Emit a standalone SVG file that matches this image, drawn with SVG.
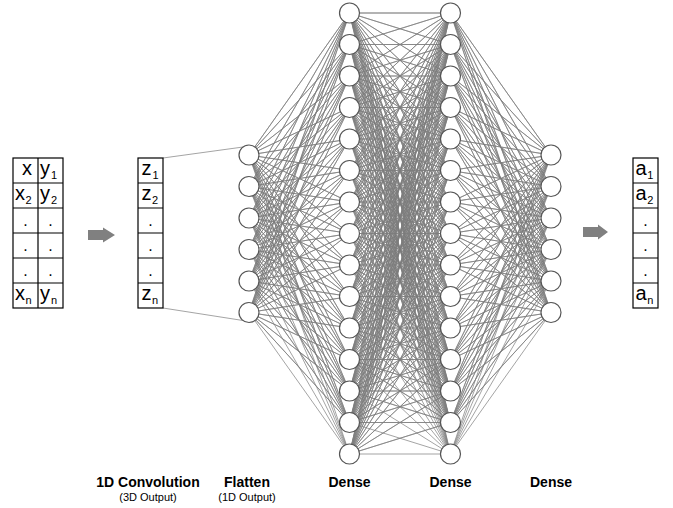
<svg xmlns="http://www.w3.org/2000/svg" width="673" height="508" viewBox="0 0 673 508">
<style>
.edge{fill:none;stroke:#7d7d7d;stroke-width:0.7;stroke-linejoin:round}
.node{fill:#fff;stroke:#555;stroke-width:1.2}
.cell{fill:#fff;stroke:#000;stroke-width:1.2}
.grid{stroke:#000;stroke-width:1.2}
.t{font-family:"Liberation Sans",Arial,sans-serif;font-size:20px;fill:#000}
.dot{font-family:"Liberation Sans",Arial,sans-serif;font-size:16px;fill:#000;text-anchor:middle}
.lbl{font-family:"Liberation Sans",Arial,sans-serif;font-size:14px;font-weight:bold;fill:#000;text-anchor:middle}
.sub{font-family:"Liberation Sans",Arial,sans-serif;font-size:11px;fill:#000;text-anchor:middle}
.arrow{fill:#808080}
</style>
<rect width="673" height="508" fill="#fff"/>
<g id="connectors">
<path class="edge" d="M163 158L243 147M163 308L243 320.5"/>
<path class="edge" d="M249 155L349.5 13 249 155 349.5 44.5 249 155 349.5 76 249 155 349.5 107.5 249 155 349.5 139 249 155 349.5 170.5 249 155 349.5 202 249 155 349.5 233.5 249 155 349.5 265 249 155 349.5 296.5 249 155 349.5 328 249 155 349.5 359.5 249 155 349.5 391 249 155 349.5 422.5 249 155 349.5 454"/>
<path class="edge" d="M249 186.5L349.5 13 249 186.5 349.5 44.5 249 186.5 349.5 76 249 186.5 349.5 107.5 249 186.5 349.5 139 249 186.5 349.5 170.5 249 186.5 349.5 202 249 186.5 349.5 233.5 249 186.5 349.5 265 249 186.5 349.5 296.5 249 186.5 349.5 328 249 186.5 349.5 359.5 249 186.5 349.5 391 249 186.5 349.5 422.5 249 186.5 349.5 454"/>
<path class="edge" d="M249 218L349.5 13 249 218 349.5 44.5 249 218 349.5 76 249 218 349.5 107.5 249 218 349.5 139 249 218 349.5 170.5 249 218 349.5 202 249 218 349.5 233.5 249 218 349.5 265 249 218 349.5 296.5 249 218 349.5 328 249 218 349.5 359.5 249 218 349.5 391 249 218 349.5 422.5 249 218 349.5 454"/>
<path class="edge" d="M249 249.5L349.5 13 249 249.5 349.5 44.5 249 249.5 349.5 76 249 249.5 349.5 107.5 249 249.5 349.5 139 249 249.5 349.5 170.5 249 249.5 349.5 202 249 249.5 349.5 233.5 249 249.5 349.5 265 249 249.5 349.5 296.5 249 249.5 349.5 328 249 249.5 349.5 359.5 249 249.5 349.5 391 249 249.5 349.5 422.5 249 249.5 349.5 454"/>
<path class="edge" d="M249 281L349.5 13 249 281 349.5 44.5 249 281 349.5 76 249 281 349.5 107.5 249 281 349.5 139 249 281 349.5 170.5 249 281 349.5 202 249 281 349.5 233.5 249 281 349.5 265 249 281 349.5 296.5 249 281 349.5 328 249 281 349.5 359.5 249 281 349.5 391 249 281 349.5 422.5 249 281 349.5 454"/>
<path class="edge" d="M249 312.5L349.5 13 249 312.5 349.5 44.5 249 312.5 349.5 76 249 312.5 349.5 107.5 249 312.5 349.5 139 249 312.5 349.5 170.5 249 312.5 349.5 202 249 312.5 349.5 233.5 249 312.5 349.5 265 249 312.5 349.5 296.5 249 312.5 349.5 328 249 312.5 349.5 359.5 249 312.5 349.5 391 249 312.5 349.5 422.5 249 312.5 349.5 454"/>
<path class="edge" d="M349.5 13L450.5 13 349.5 13 450.5 44.5 349.5 13 450.5 76 349.5 13 450.5 107.5 349.5 13 450.5 139 349.5 13 450.5 170.5 349.5 13 450.5 202 349.5 13 450.5 233.5 349.5 13 450.5 265 349.5 13 450.5 296.5 349.5 13 450.5 328 349.5 13 450.5 359.5 349.5 13 450.5 391 349.5 13 450.5 422.5 349.5 13 450.5 454"/>
<path class="edge" d="M349.5 44.5L450.5 13 349.5 44.5 450.5 44.5 349.5 44.5 450.5 76 349.5 44.5 450.5 107.5 349.5 44.5 450.5 139 349.5 44.5 450.5 170.5 349.5 44.5 450.5 202 349.5 44.5 450.5 233.5 349.5 44.5 450.5 265 349.5 44.5 450.5 296.5 349.5 44.5 450.5 328 349.5 44.5 450.5 359.5 349.5 44.5 450.5 391 349.5 44.5 450.5 422.5 349.5 44.5 450.5 454"/>
<path class="edge" d="M349.5 76L450.5 13 349.5 76 450.5 44.5 349.5 76 450.5 76 349.5 76 450.5 107.5 349.5 76 450.5 139 349.5 76 450.5 170.5 349.5 76 450.5 202 349.5 76 450.5 233.5 349.5 76 450.5 265 349.5 76 450.5 296.5 349.5 76 450.5 328 349.5 76 450.5 359.5 349.5 76 450.5 391 349.5 76 450.5 422.5 349.5 76 450.5 454"/>
<path class="edge" d="M349.5 107.5L450.5 13 349.5 107.5 450.5 44.5 349.5 107.5 450.5 76 349.5 107.5 450.5 107.5 349.5 107.5 450.5 139 349.5 107.5 450.5 170.5 349.5 107.5 450.5 202 349.5 107.5 450.5 233.5 349.5 107.5 450.5 265 349.5 107.5 450.5 296.5 349.5 107.5 450.5 328 349.5 107.5 450.5 359.5 349.5 107.5 450.5 391 349.5 107.5 450.5 422.5 349.5 107.5 450.5 454"/>
<path class="edge" d="M349.5 139L450.5 13 349.5 139 450.5 44.5 349.5 139 450.5 76 349.5 139 450.5 107.5 349.5 139 450.5 139 349.5 139 450.5 170.5 349.5 139 450.5 202 349.5 139 450.5 233.5 349.5 139 450.5 265 349.5 139 450.5 296.5 349.5 139 450.5 328 349.5 139 450.5 359.5 349.5 139 450.5 391 349.5 139 450.5 422.5 349.5 139 450.5 454"/>
<path class="edge" d="M349.5 170.5L450.5 13 349.5 170.5 450.5 44.5 349.5 170.5 450.5 76 349.5 170.5 450.5 107.5 349.5 170.5 450.5 139 349.5 170.5 450.5 170.5 349.5 170.5 450.5 202 349.5 170.5 450.5 233.5 349.5 170.5 450.5 265 349.5 170.5 450.5 296.5 349.5 170.5 450.5 328 349.5 170.5 450.5 359.5 349.5 170.5 450.5 391 349.5 170.5 450.5 422.5 349.5 170.5 450.5 454"/>
<path class="edge" d="M349.5 202L450.5 13 349.5 202 450.5 44.5 349.5 202 450.5 76 349.5 202 450.5 107.5 349.5 202 450.5 139 349.5 202 450.5 170.5 349.5 202 450.5 202 349.5 202 450.5 233.5 349.5 202 450.5 265 349.5 202 450.5 296.5 349.5 202 450.5 328 349.5 202 450.5 359.5 349.5 202 450.5 391 349.5 202 450.5 422.5 349.5 202 450.5 454"/>
<path class="edge" d="M349.5 233.5L450.5 13 349.5 233.5 450.5 44.5 349.5 233.5 450.5 76 349.5 233.5 450.5 107.5 349.5 233.5 450.5 139 349.5 233.5 450.5 170.5 349.5 233.5 450.5 202 349.5 233.5 450.5 233.5 349.5 233.5 450.5 265 349.5 233.5 450.5 296.5 349.5 233.5 450.5 328 349.5 233.5 450.5 359.5 349.5 233.5 450.5 391 349.5 233.5 450.5 422.5 349.5 233.5 450.5 454"/>
<path class="edge" d="M349.5 265L450.5 13 349.5 265 450.5 44.5 349.5 265 450.5 76 349.5 265 450.5 107.5 349.5 265 450.5 139 349.5 265 450.5 170.5 349.5 265 450.5 202 349.5 265 450.5 233.5 349.5 265 450.5 265 349.5 265 450.5 296.5 349.5 265 450.5 328 349.5 265 450.5 359.5 349.5 265 450.5 391 349.5 265 450.5 422.5 349.5 265 450.5 454"/>
<path class="edge" d="M349.5 296.5L450.5 13 349.5 296.5 450.5 44.5 349.5 296.5 450.5 76 349.5 296.5 450.5 107.5 349.5 296.5 450.5 139 349.5 296.5 450.5 170.5 349.5 296.5 450.5 202 349.5 296.5 450.5 233.5 349.5 296.5 450.5 265 349.5 296.5 450.5 296.5 349.5 296.5 450.5 328 349.5 296.5 450.5 359.5 349.5 296.5 450.5 391 349.5 296.5 450.5 422.5 349.5 296.5 450.5 454"/>
<path class="edge" d="M349.5 328L450.5 13 349.5 328 450.5 44.5 349.5 328 450.5 76 349.5 328 450.5 107.5 349.5 328 450.5 139 349.5 328 450.5 170.5 349.5 328 450.5 202 349.5 328 450.5 233.5 349.5 328 450.5 265 349.5 328 450.5 296.5 349.5 328 450.5 328 349.5 328 450.5 359.5 349.5 328 450.5 391 349.5 328 450.5 422.5 349.5 328 450.5 454"/>
<path class="edge" d="M349.5 359.5L450.5 13 349.5 359.5 450.5 44.5 349.5 359.5 450.5 76 349.5 359.5 450.5 107.5 349.5 359.5 450.5 139 349.5 359.5 450.5 170.5 349.5 359.5 450.5 202 349.5 359.5 450.5 233.5 349.5 359.5 450.5 265 349.5 359.5 450.5 296.5 349.5 359.5 450.5 328 349.5 359.5 450.5 359.5 349.5 359.5 450.5 391 349.5 359.5 450.5 422.5 349.5 359.5 450.5 454"/>
<path class="edge" d="M349.5 391L450.5 13 349.5 391 450.5 44.5 349.5 391 450.5 76 349.5 391 450.5 107.5 349.5 391 450.5 139 349.5 391 450.5 170.5 349.5 391 450.5 202 349.5 391 450.5 233.5 349.5 391 450.5 265 349.5 391 450.5 296.5 349.5 391 450.5 328 349.5 391 450.5 359.5 349.5 391 450.5 391 349.5 391 450.5 422.5 349.5 391 450.5 454"/>
<path class="edge" d="M349.5 422.5L450.5 13 349.5 422.5 450.5 44.5 349.5 422.5 450.5 76 349.5 422.5 450.5 107.5 349.5 422.5 450.5 139 349.5 422.5 450.5 170.5 349.5 422.5 450.5 202 349.5 422.5 450.5 233.5 349.5 422.5 450.5 265 349.5 422.5 450.5 296.5 349.5 422.5 450.5 328 349.5 422.5 450.5 359.5 349.5 422.5 450.5 391 349.5 422.5 450.5 422.5 349.5 422.5 450.5 454"/>
<path class="edge" d="M349.5 454L450.5 13 349.5 454 450.5 44.5 349.5 454 450.5 76 349.5 454 450.5 107.5 349.5 454 450.5 139 349.5 454 450.5 170.5 349.5 454 450.5 202 349.5 454 450.5 233.5 349.5 454 450.5 265 349.5 454 450.5 296.5 349.5 454 450.5 328 349.5 454 450.5 359.5 349.5 454 450.5 391 349.5 454 450.5 422.5 349.5 454 450.5 454"/>
<path class="edge" d="M551 155L450.5 13 551 155 450.5 44.5 551 155 450.5 76 551 155 450.5 107.5 551 155 450.5 139 551 155 450.5 170.5 551 155 450.5 202 551 155 450.5 233.5 551 155 450.5 265 551 155 450.5 296.5 551 155 450.5 328 551 155 450.5 359.5 551 155 450.5 391 551 155 450.5 422.5 551 155 450.5 454"/>
<path class="edge" d="M551 186.5L450.5 13 551 186.5 450.5 44.5 551 186.5 450.5 76 551 186.5 450.5 107.5 551 186.5 450.5 139 551 186.5 450.5 170.5 551 186.5 450.5 202 551 186.5 450.5 233.5 551 186.5 450.5 265 551 186.5 450.5 296.5 551 186.5 450.5 328 551 186.5 450.5 359.5 551 186.5 450.5 391 551 186.5 450.5 422.5 551 186.5 450.5 454"/>
<path class="edge" d="M551 218L450.5 13 551 218 450.5 44.5 551 218 450.5 76 551 218 450.5 107.5 551 218 450.5 139 551 218 450.5 170.5 551 218 450.5 202 551 218 450.5 233.5 551 218 450.5 265 551 218 450.5 296.5 551 218 450.5 328 551 218 450.5 359.5 551 218 450.5 391 551 218 450.5 422.5 551 218 450.5 454"/>
<path class="edge" d="M551 249.5L450.5 13 551 249.5 450.5 44.5 551 249.5 450.5 76 551 249.5 450.5 107.5 551 249.5 450.5 139 551 249.5 450.5 170.5 551 249.5 450.5 202 551 249.5 450.5 233.5 551 249.5 450.5 265 551 249.5 450.5 296.5 551 249.5 450.5 328 551 249.5 450.5 359.5 551 249.5 450.5 391 551 249.5 450.5 422.5 551 249.5 450.5 454"/>
<path class="edge" d="M551 281L450.5 13 551 281 450.5 44.5 551 281 450.5 76 551 281 450.5 107.5 551 281 450.5 139 551 281 450.5 170.5 551 281 450.5 202 551 281 450.5 233.5 551 281 450.5 265 551 281 450.5 296.5 551 281 450.5 328 551 281 450.5 359.5 551 281 450.5 391 551 281 450.5 422.5 551 281 450.5 454"/>
<path class="edge" d="M551 312.5L450.5 13 551 312.5 450.5 44.5 551 312.5 450.5 76 551 312.5 450.5 107.5 551 312.5 450.5 139 551 312.5 450.5 170.5 551 312.5 450.5 202 551 312.5 450.5 233.5 551 312.5 450.5 265 551 312.5 450.5 296.5 551 312.5 450.5 328 551 312.5 450.5 359.5 551 312.5 450.5 391 551 312.5 450.5 422.5 551 312.5 450.5 454"/>
<polygon class="arrow" points="88,230 103,230 103,227.5 115,235 103,242.5 103,240 88,240"/>
<polygon class="arrow" points="583,227 598,227 598,224.5 608,232 598,239.5 598,237 583,237"/>
</g>
<g id="input-table">
<rect class="cell" x="13" y="158" width="50" height="150"/>
<path class="grid" d="M38 158V308M13 183H63M13 208H63M13 233H63M13 258H63M13 283H63"/>
<text class="t" x="22" y="175">x</text>
<text class="t" x="40" y="175">y<tspan font-size="11" dx="1" dy="4">1</tspan></text>
<text class="t" x="15" y="200">x<tspan font-size="11" dx="0.5" dy="4">2</tspan></text>
<text class="t" x="40" y="200">y<tspan font-size="11" dx="1" dy="4">2</tspan></text>
<text class="dot" x="25.5" y="226">.</text><text class="dot" x="50.5" y="226">.</text>
<text class="dot" x="25.5" y="251">.</text><text class="dot" x="50.5" y="251">.</text>
<text class="dot" x="25.5" y="276">.</text><text class="dot" x="50.5" y="276">.</text>
<text class="t" x="15" y="300">x<tspan font-size="11" dx="0.5" dy="4">n</tspan></text>
<text class="t" x="40" y="300">y<tspan font-size="11" dx="1" dy="4">n</tspan></text>
</g>
<g id="conv-table">
<rect class="cell" x="138" y="158" width="25" height="150"/>
<path class="grid" d="M138 183H163M138 208H163M138 233H163M138 258H163M138 283H163"/>
<text class="t" x="141.5" y="175">z<tspan font-size="11" dx="1" dy="4">1</tspan></text>
<text class="t" x="141.5" y="200">z<tspan font-size="11" dx="0.5" dy="4">2</tspan></text>
<text class="dot" x="150.5" y="226">.</text>
<text class="dot" x="150.5" y="251">.</text>
<text class="dot" x="150.5" y="276">.</text>
<text class="t" x="141.5" y="300">z<tspan font-size="11" dx="0.5" dy="4">n</tspan></text>
</g>
<g id="output-table">
<rect class="cell" x="633" y="158" width="25" height="150"/>
<path class="grid" d="M633 183H658M633 208H658M633 233H658M633 258H658M633 283H658"/>
<text class="t" x="635.5" y="175">a<tspan font-size="11" dx="0.5" dy="4">1</tspan></text>
<text class="t" x="635.5" y="200">a<tspan font-size="11" dx="0.5" dy="4">2</tspan></text>
<text class="dot" x="645.5" y="226">.</text>
<text class="dot" x="645.5" y="251">.</text>
<text class="dot" x="645.5" y="276">.</text>
<text class="t" x="635.5" y="300">a<tspan font-size="11" dx="0.5" dy="4">n</tspan></text>
</g>
<g id="flatten-layer">
<g id="f1"><circle class="node" cx="249" cy="155" r="10"/></g>
<g id="f2"><circle class="node" cx="249" cy="186.5" r="10"/></g>
<g id="f3"><circle class="node" cx="249" cy="218" r="10"/></g>
<g id="f4"><circle class="node" cx="249" cy="249.5" r="10"/></g>
<g id="f5"><circle class="node" cx="249" cy="281" r="10"/></g>
<g id="f6"><circle class="node" cx="249" cy="312.5" r="10"/></g>
</g>
<g id="dense1-layer">
<g id="d1-1"><circle class="node" cx="349.5" cy="13" r="10"/></g>
<g id="d1-2"><circle class="node" cx="349.5" cy="44.5" r="10"/></g>
<g id="d1-3"><circle class="node" cx="349.5" cy="76" r="10"/></g>
<g id="d1-4"><circle class="node" cx="349.5" cy="107.5" r="10"/></g>
<g id="d1-5"><circle class="node" cx="349.5" cy="139" r="10"/></g>
<g id="d1-6"><circle class="node" cx="349.5" cy="170.5" r="10"/></g>
<g id="d1-7"><circle class="node" cx="349.5" cy="202" r="10"/></g>
<g id="d1-8"><circle class="node" cx="349.5" cy="233.5" r="10"/></g>
<g id="d1-9"><circle class="node" cx="349.5" cy="265" r="10"/></g>
<g id="d1-10"><circle class="node" cx="349.5" cy="296.5" r="10"/></g>
<g id="d1-11"><circle class="node" cx="349.5" cy="328" r="10"/></g>
<g id="d1-12"><circle class="node" cx="349.5" cy="359.5" r="10"/></g>
<g id="d1-13"><circle class="node" cx="349.5" cy="391" r="10"/></g>
<g id="d1-14"><circle class="node" cx="349.5" cy="422.5" r="10"/></g>
<g id="d1-15"><circle class="node" cx="349.5" cy="454" r="10"/></g>
</g>
<g id="dense2-layer">
<g id="d2-1"><circle class="node" cx="450.5" cy="13" r="10"/></g>
<g id="d2-2"><circle class="node" cx="450.5" cy="44.5" r="10"/></g>
<g id="d2-3"><circle class="node" cx="450.5" cy="76" r="10"/></g>
<g id="d2-4"><circle class="node" cx="450.5" cy="107.5" r="10"/></g>
<g id="d2-5"><circle class="node" cx="450.5" cy="139" r="10"/></g>
<g id="d2-6"><circle class="node" cx="450.5" cy="170.5" r="10"/></g>
<g id="d2-7"><circle class="node" cx="450.5" cy="202" r="10"/></g>
<g id="d2-8"><circle class="node" cx="450.5" cy="233.5" r="10"/></g>
<g id="d2-9"><circle class="node" cx="450.5" cy="265" r="10"/></g>
<g id="d2-10"><circle class="node" cx="450.5" cy="296.5" r="10"/></g>
<g id="d2-11"><circle class="node" cx="450.5" cy="328" r="10"/></g>
<g id="d2-12"><circle class="node" cx="450.5" cy="359.5" r="10"/></g>
<g id="d2-13"><circle class="node" cx="450.5" cy="391" r="10"/></g>
<g id="d2-14"><circle class="node" cx="450.5" cy="422.5" r="10"/></g>
<g id="d2-15"><circle class="node" cx="450.5" cy="454" r="10"/></g>
</g>
<g id="dense3-layer">
<g id="d3-1"><circle class="node" cx="551" cy="155" r="10"/></g>
<g id="d3-2"><circle class="node" cx="551" cy="186.5" r="10"/></g>
<g id="d3-3"><circle class="node" cx="551" cy="218" r="10"/></g>
<g id="d3-4"><circle class="node" cx="551" cy="249.5" r="10"/></g>
<g id="d3-5"><circle class="node" cx="551" cy="281" r="10"/></g>
<g id="d3-6"><circle class="node" cx="551" cy="312.5" r="10"/></g>
</g>
<g id="labels">
<text class="lbl" x="148" y="486.5">1D Convolution</text>
<text class="sub" x="148" y="501">(3D Output)</text>
<text class="lbl" x="247" y="486.5">Flatten</text>
<text class="sub" x="247" y="501">(1D Output)</text>
<text class="lbl" x="349.5" y="486.5">Dense</text>
<text class="lbl" x="450.5" y="486.5">Dense</text>
<text class="lbl" x="551" y="486.5">Dense</text>
</g>
</svg>
